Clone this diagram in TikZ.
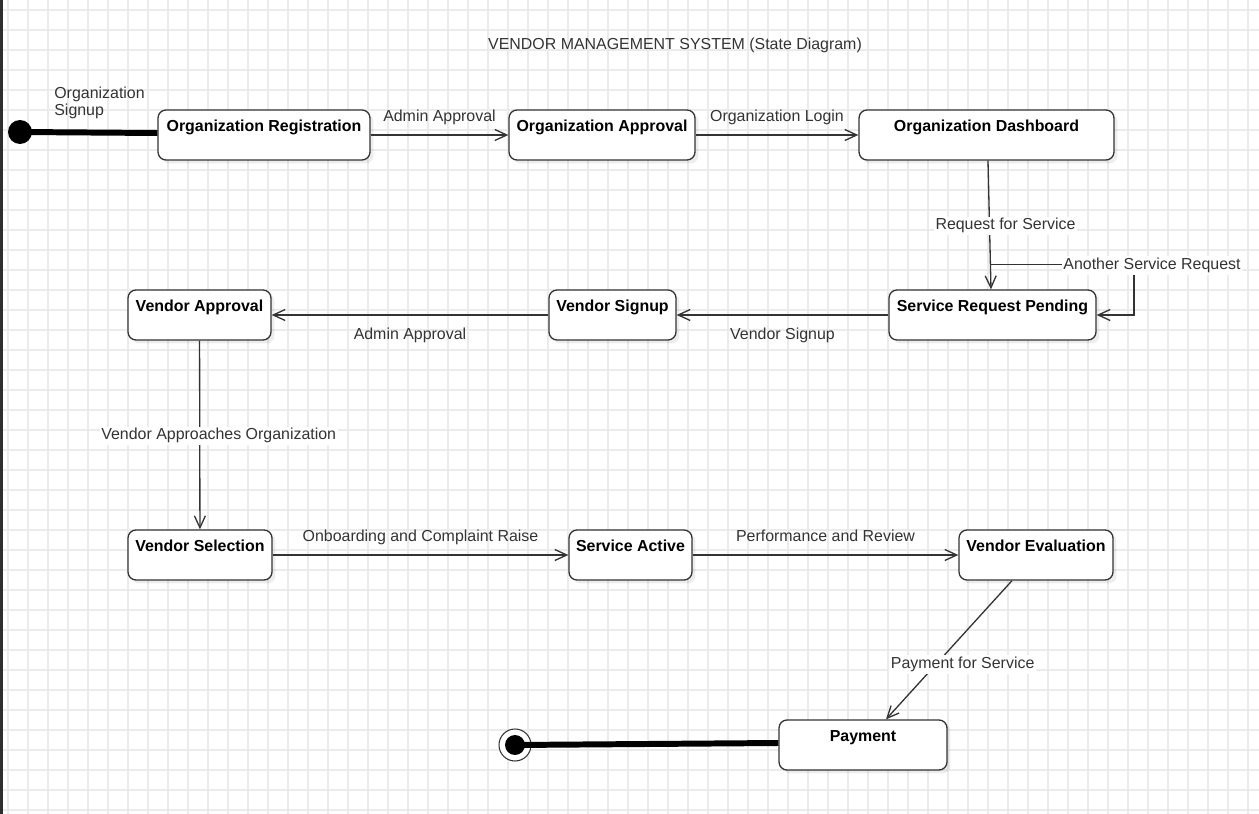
\documentclass[tikz,border=0pt]{standalone}
\usepackage{fontspec}
\setmainfont{Liberation Sans}
\usetikzlibrary{arrows.meta,shadows,calc}
\definecolor{lineGray}{HTML}{333333}
\definecolor{gridGray}{HTML}{EBEBEB}
\definecolor{barGray}{HTML}{2E2E2E}

\begin{document}
\begin{tikzpicture}[x=0.02cm, y=-0.02cm,
		every node/.style={font=\fontsize{9.07}{9.1}\selectfont, text=lineGray},
		stateBox/.style={
				draw=lineGray, line width=0.75pt, rounded corners=0.16cm, fill=white,
				minimum height=1cm, inner xsep=0pt, inner ysep=0pt,
				text height=7pt, text depth=10.8pt, text=black,
				font=\fontsize{9.07}{9.1}\selectfont\bfseries,
				drop shadow={shadow xshift=0.07cm, shadow yshift=-0.07cm, opacity=0.07, fill=black}
			},
		initState/.style={circle, fill=black, minimum size=0.48cm, inner sep=0pt},
		finalRing/.style={circle, draw=lineGray, line width=0.6pt, fill=white, minimum size=0.64cm, inner sep=0pt},
		finalDot/.style={circle, fill=black, minimum size=0.4cm, inner sep=0pt},
		transLabel/.style={inner sep=1pt, text height=6.5pt, text depth=1.9pt},
		onLine/.style={transLabel, fill=white},
		transArrow/.style={draw=lineGray, line width=0.75pt, -{Straight Barb[length=2.4mm, width=2.2mm]}},
		thickLine/.style={line width=3.4pt, black},
		gridLine/.style={draw=gridGray, line width=0.8pt}
	]

	\useasboundingbox (0,0) rectangle (1259,814);

	% grid paper
	\foreach \gx in {8,28,...,1248} {\draw[gridLine] (\gx,0) -- (\gx,814);}
	\foreach \gy in {10,30,...,810} {\draw[gridLine] (0,\gy) -- (1259,\gy);}
	\fill[barGray] (0,0) rectangle (3,814);

	\node (title) at (675,45) {VENDOR MANAGEMENT SYSTEM (State Diagram)};

	% top row
	\node[initState] (start) at (20,132) {};
	\node[stateBox, minimum width=4.24cm] (orgReg) at (264,135) {Organization Registration};
	\node[stateBox, minimum width=3.72cm] (orgApp) at (602,135) {Organization Approval};
	\node[stateBox, minimum width=5.10cm] (orgDash) at (986.5,135) {Organization Dashboard};

	% middle row
	\node[stateBox, minimum width=4.14cm] (srp) at (992.5,315) {Service Request Pending};
	\node[stateBox, minimum width=2.54cm] (vSign) at (612.5,315) {Vendor Signup};
	\node[stateBox, minimum width=2.86cm] (vApp) at (199.5,315) {Vendor Approval};

	% lower row
	\node[stateBox, minimum width=2.88cm] (vSel) at (200,555) {Vendor Selection};
	\node[stateBox, minimum width=2.46cm] (sAct) at (630.5,555) {Service Active};
	\node[stateBox, minimum width=3.08cm] (vEval) at (1036,555) {Vendor Evaluation};

	% end
	\node[stateBox, minimum width=3.36cm] (pay) at (863,745) {Payment};
	\node[finalRing] (endRing) at (515,745) {};
	\node[finalDot] (endDot) at (515,745) {};

	\draw[thickLine] (start.center) -- ([yshift=0.04cm]orgReg.west);
	\node[align=left, anchor=north west, inner sep=0pt, font=\fontsize{9.07}{9.7}\selectfont] (lblSignup) at (54,87) {Organization\\Signup};
	\draw[thickLine] (endDot.center) -- ([yshift=0.04cm]pay.west);

	\draw[transArrow] (orgReg) -- node[transLabel, midway, above=0.16cm] (lblAdminA) {Admin Approval} (orgApp);
	\draw[transArrow] (orgApp) -- node[transLabel, midway, above=0.16cm] (lblLogin) {Organization Login} (orgDash);
	\draw[transArrow] ([xshift=0.03cm]orgDash.south) -- node[onLine, pos=0.49, xshift=0.32cm, yshift=-0.04cm] (lblRequest) {Request for Service} coordinate[pos=0.806] (reqJoin) ([xshift=-0.03cm]srp.north);
	\coordinate (loopCorner) at (1134,315);
	\draw[transArrow] (reqJoin) -| node[onLine, pos=0.5, xshift=0.36cm, yshift=-0.02cm] (lblAnother) {Another Service Request} (loopCorner) -- (srp.east);
	\draw[transArrow] (srp) -- node[transLabel, midway, below=0.22cm] (lblVSign) {Vendor Signup} (vSign);
	\draw[transArrow] (vSign) -- node[transLabel, midway, below=0.22cm] (lblAdminB) {Admin Approval} (vApp);
	\draw[transArrow] (vApp) -- node[onLine, pos=0.52, xshift=0.38cm, yshift=0.06cm] (lblApproach) {Vendor Approaches Organization} (vSel);
	\draw[transArrow] (vSel) -- node[transLabel, midway, above=0.16cm] (lblOnboard) {Onboarding and Complaint Raise} (sAct);
	\draw[transArrow] (sAct) -- node[transLabel, midway, above=0.16cm] (lblPerf) {Performance and Review} (vEval);
	\draw[transArrow] ([xshift=-0.48cm]vEval.south) -- node[onLine, pos=0.59, xshift=0.5cm, yshift=-0.04cm] (lblPay) {Payment for Service} ([xshift=0.46cm]pay.north);
\end{tikzpicture}
\end{document}
